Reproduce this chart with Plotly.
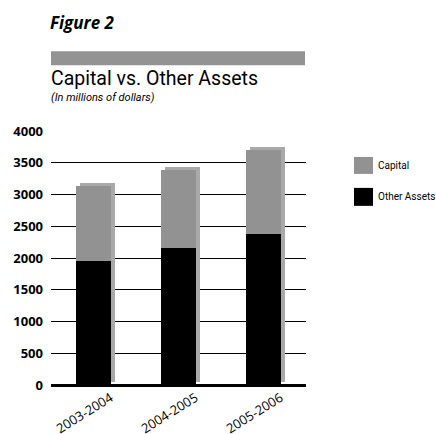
import plotly.graph_objects as go

categories = ["2003-2004", "2004-2005", "2005-2006"]
other_assets = [1960, 2160, 2380]
capital = [1175, 1225, 1320]
y_ticks = [0, 500, 1000, 1500, 2000, 2500, 3000, 3500, 4000]

totals = [o + c for o, c in zip(other_assets, capital)]

W, H = 436, 434
# plot-area pixel bounds
PL, PR, PT, PB = 51, 306, 131, 385.5
L, T = PL, PT
R = W - PR
B = H - PB
pw = PR - PL
ph = PB - PT

def px(x):
    return (x - PL) / pw

def py(y):
    return (PB - y) / ph

bar_w = 0.41
sh_dx = 4 / 85.0          # shadow shift right (category units)
units_per_px = 4000 / ph
sh_up = 3 * units_per_px  # shadow shift up (data units)
label_shift = 0.2         # tick labels end near the bar's right edge

fig = go.Figure()
# drop shadow
fig.add_trace(go.Bar(
    x=list(range(len(categories))), y=totals, base=sh_up,
    width=bar_w, offset=-bar_w / 2 + sh_dx,
    marker=dict(color="#a9a9a9", line=dict(width=0)), showlegend=False, hoverinfo="skip"))
fig.add_trace(go.Bar(
    x=list(range(len(categories))), y=other_assets, base=0,
    width=bar_w, offset=-bar_w / 2,
    marker=dict(color="#000000", line=dict(width=0)), name="Other Assets", showlegend=False))
fig.add_trace(go.Bar(
    x=list(range(len(categories))), y=capital, base=other_assets,
    width=bar_w, offset=-bar_w / 2,
    marker=dict(color="#929292", line=dict(width=0)), name="Capital", showlegend=False))

font_main = "Open Sans, Noto Sans, sans-serif"
font_narrow = "Roboto, Open Sans, sans-serif"

fig.update_layout(
    width=W, height=H,
    margin=dict(l=L, r=R, t=T, b=B, pad=0, autoexpand=False),
    paper_bgcolor="white", plot_bgcolor="white",
    barmode="overlay", bargap=0,
    xaxis=dict(
        range=[-0.5, 2.5], tickmode="array", automargin=False,
        tickvals=[i + label_shift for i in range(len(categories))], ticktext=categories,
        tickangle=-32, showgrid=False, zeroline=False, showline=False,
        ticks="", ticklabelstandoff=2,
        tickfont=dict(family=font_main, size=13, color="#000"),
    ),
    yaxis=dict(
        range=[0, 4000], tickmode="array", tickvals=y_ticks, automargin=False,
        ticktext=[str(v) for v in y_ticks],
        showgrid=True, gridcolor="#000000", gridwidth=1,
        zeroline=True, zerolinecolor="#000000", zerolinewidth=2.5,
        showline=False, ticks="", ticklabelstandoff=7,
        tickfont=dict(family=font_main, size=13, color="#000", weight="bold"),
    ),
    shapes=[
        dict(type="rect", xref="paper", yref="paper",
             x0=px(51), x1=px(305), y0=py(65), y1=py(51),
             fillcolor="#939393", line=dict(width=0)),
        dict(type="rect", xref="paper", yref="paper",
             x0=px(354), x1=px(373), y0=py(174), y1=py(157),
             fillcolor="#929292", line=dict(width=0)),
        dict(type="rect", xref="paper", yref="paper",
             x0=px(354), x1=px(373), y0=py(206), y1=py(188),
             fillcolor="#000000", line=dict(width=0)),
    ],
    annotations=[
        dict(text="<b><i>Figure 2</i></b>", xref="paper", yref="paper",
             x=px(48), y=py(22), xanchor="left", yanchor="middle", showarrow=False,
             font=dict(family=font_main, size=17, color="#000")),
        dict(text="Capital vs. Other Assets", xref="paper", yref="paper",
             x=px(49), y=py(78), xanchor="left", yanchor="middle", showarrow=False,
             font=dict(family=font_narrow, size=19.5, color="#000")),
        dict(text="<i>(In millions of dollars)</i>", xref="paper", yref="paper",
             x=px(49), y=py(97.5), xanchor="left", yanchor="middle", showarrow=False,
             font=dict(family=font_narrow, size=11, color="#000")),
        dict(text="Capital", xref="paper", yref="paper",
             x=px(376), y=py(166), xanchor="left", yanchor="middle", showarrow=False,
             font=dict(family=font_narrow, size=10, color="#000")),
        dict(text="Other Assets", xref="paper", yref="paper",
             x=px(376), y=py(197), xanchor="left", yanchor="middle", showarrow=False,
             font=dict(family=font_narrow, size=10, color="#000")),
    ],
)

# remove the browser's default 8px page margin so the figure fills the window
fig.write_html("out.html", config={"displayModeBar": False},
               post_script="document.body.style.margin='0';")
